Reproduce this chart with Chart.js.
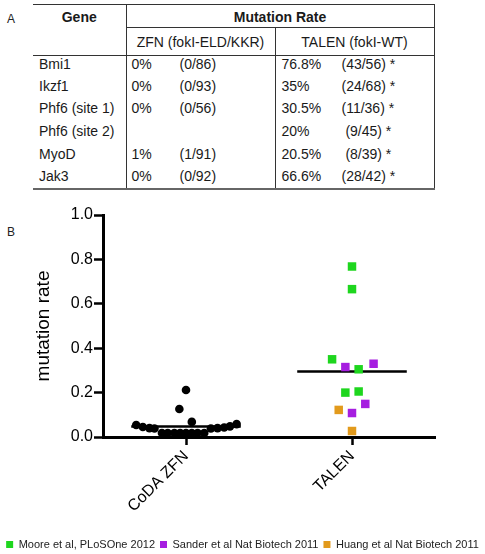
<!DOCTYPE html>
<html><head><meta charset="utf-8">
<script src="https://cdn.jsdelivr.net/npm/chart.js@4.4.1/dist/chart.umd.min.js"></script>
<style>
html,body{margin:0;padding:0;background:#fff;width:485px;height:554px;overflow:hidden;font-family:"Liberation Sans",Arial,sans-serif;}
.lbl{position:absolute;font-size:12px;color:#222;line-height:14px;}
#tbl{position:absolute;left:33px;top:4px;border-collapse:collapse;table-layout:fixed;width:401px;font-size:14px;color:#1a1a1a;}
#tbl td,#tbl th{padding:0;border:0 solid #333;white-space:nowrap;overflow:hidden;box-sizing:border-box;vertical-align:top;line-height:15px;}
#tbl th{font-weight:bold;text-align:center;border-top-width:1px;padding-top:5px;}
#tbl .gene{border-right-width:1px;border-bottom-width:1px;}
#tbl .mr{height:23px;border-bottom-width:1px;border-right-width:1px;}
#tbl .sub{height:28px;text-align:center;border-right-width:1px;border-bottom-width:1px;padding-top:7px;}
#tbl tr.d td{height:22.7px;padding-top:0.5px;border-right-width:1px;}
#tbl tr.last td{height:20px;border-bottom:2px solid #666;}
#tbl td.g{padding-left:6px;}
#tbl td.z{padding-left:5px;}
#tbl td.t{padding-left:6px;}
.pz{display:inline-block;width:48px;}
.pt{display:inline-block;width:60px;}
#c{position:absolute;left:0;top:195px;}
</style>
</head><body>
<div class="lbl" style="left:7px;top:12px;">A</div>
<table id="tbl">
<colgroup><col style="width:93px"><col style="width:149px"><col style="width:159px"></colgroup>
<thead>
<tr><th rowspan="2" class="gene">Gene</th><th colspan="2" class="mr">Mutation Rate</th></tr>
<tr><td class="sub" id="hz"></td><td class="sub" id="ht"></td></tr>
</thead>
<tbody id="tb"></tbody>
</table>
<div class="lbl" style="left:7px;top:225px;">B</div>
<canvas id="c" width="485" height="365"></canvas>
<script>
// ---- table data ----
const colHeaders = ['ZFN (fokI-ELD/KKR)', 'TALEN (fokI-WT)'];
const genes = ['Bmi1', 'Ikzf1', 'Phf6 (site 1)', 'Phf6 (site 2)', 'MyoD', 'Jak3'];
const zfnPct = ['0%', '0%', '0%', '', '1%', '0%'];
const zfnFrac = ['(0/86)', '(0/93)', '(0/56)', '', '(1/91)', '(0/92)'];
const talenPct = ['76.8%', '35%', '30.5%', '20%', '20.5%', '66.6%'];
const talenFrac = ['(43/56) *', '(24/68) *', '(11/36) *', '\u00a0(9/45) *', '\u00a0(8/39) *', '(28/42) *'];

// ---- chart data ----
const categories = ['CoDA ZFN', 'TALEN'];
const yTicks = [0, 0.2, 0.4, 0.6, 0.8, 1.0];
const zfnRate = [0.054, 0.045, 0.040, 0.038, 0.018, 0.018, 0.018, 0.018, 0.018, 0.018, 0.018, 0.018, 0.038, 0.040, 0.043, 0.048, 0.058, 0.212, 0.126, 0.068];
const zfnPos  = [0.70, 0.74, 0.78, 0.81, 0.855, 0.89, 0.93, 0.965, 1.0, 1.035, 1.07, 1.11, 1.15, 1.19, 1.23, 1.265, 1.305, 1.0, 0.96, 1.035];
const mooreRate = [0.768, 0.35, 0.305, 0.20, 0.205, 0.666];
const moorePos  = [2.0, 1.88, 2.04, 1.96, 2.04, 2.0];
const sanderRate = [0.315, 0.33, 0.149, 0.108];
const sanderPos  = [1.96, 2.13, 2.08, 2.0];
const huangRate = [0.122, 0.027];
const huangPos  = [1.92, 2.0];
const seriesNames = ['Moore et al, PLoSOne 2012', 'Sander et al Nat Biotech 2011', 'Huang et al Nat Biotech 2011'];

// build table
document.getElementById('hz').textContent = colHeaders[0];
document.getElementById('ht').textContent = colHeaders[1];
const tb = document.getElementById('tb');
genes.forEach((g, i) => {
  const tr = document.createElement('tr');
  tr.className = 'd' + (i === genes.length - 1 ? ' last' : '');
  tr.innerHTML = '<td class="g"></td><td class="z"><span class="pz"></span><span></span></td><td class="t"><span class="pt"></span><span></span></td>';
  tr.children[0].textContent = g;
  tr.children[1].children[0].textContent = zfnPct[i];
  tr.children[1].children[1].textContent = zfnFrac[i];
  tr.children[2].children[0].textContent = talenPct[i];
  tr.children[2].children[1].textContent = talenFrac[i];
  tb.appendChild(tr);
});

const GREEN = '#1ed61e', PURPLE = '#a61ee0', ORANGE = '#e29a1c';
const MEAN_HALF = 0.33;
const mean = a => a.reduce((s, v) => s + v, 0) / a.length;
const talenAll = mooreRate.concat(sanderRate, huangRate);
const pts = (ys, xs) => ys.map((y, i) => ({x: xs[i], y}));

Chart.defaults.font.family = '"Liberation Sans", Arial, sans-serif';
Chart.defaults.color = '#000';

const sq = (label, ys, xs, col) => ({
  label, data: pts(ys, xs), backgroundColor: col, borderColor: col, borderWidth: 0,
  pointStyle: 'rect', pointRadius: 6, pointHoverRadius: 6, pointBorderWidth: 0
});
const meanLine = (label, cx, m) => ({
  label, data: [{x: cx - MEAN_HALF, y: m}, {x: cx + MEAN_HALF, y: m}],
  showLine: true, borderColor: '#000', backgroundColor: '#000', borderWidth: 2.5, pointRadius: 0, pointHoverRadius: 0
});

new Chart(document.getElementById('c'), {
  type: 'scatter',
  data: {
    datasets: [
      {label: categories[0], data: pts(zfnRate, zfnPos), backgroundColor: '#000', borderColor: '#000', borderWidth: 0,
       pointStyle: 'circle', pointRadius: 4.3, pointHoverRadius: 4.3, pointBorderWidth: 0},
      sq(seriesNames[0], mooreRate, moorePos, GREEN),
      sq(seriesNames[1], sanderRate, sanderPos, PURPLE),
      sq(seriesNames[2], huangRate, huangPos, ORANGE),
      meanLine('mean ZFN', 1, mean(zfnRate)),
      meanLine('mean TALEN', 2, mean(talenAll))
    ]
  },
  options: {
    responsive: false, animation: false, devicePixelRatio: 1, events: [],
    layout: {padding: {top: 20, left: 0, right: 0, bottom: 0}},
    plugins: {
      tooltip: {enabled: false},
      legend: {
        position: 'bottom',
        labels: {
          boxWidth: 7, boxHeight: 7, padding: 5, color: '#222', font: {size: 11},
          filter: (item) => item.datasetIndex >= 1 && item.datasetIndex <= 3
        }
      }
    },
    scales: {
      x: {
        type: 'linear', min: 0.5, max: 2.5,
        afterBuildTicks: s => { s.ticks = categories.map((c, i) => ({value: i + 1})); },
        afterFit: s => { s.height = 97; },
        ticks: {callback: v => categories[Math.round(v) - 1], font: {size: 16}, color: '#000',
                minRotation: 45, maxRotation: 45, autoSkip: false, padding: 2},
        grid: {display: true, drawOnChartArea: false, drawTicks: true, tickLength: 8, tickWidth: 2.5, tickColor: '#000'},
        border: {display: true, color: '#000', width: 3}
      },
      y: {
        type: 'linear', min: 0, max: 1,
        afterBuildTicks: s => { s.ticks = yTicks.map(v => ({value: v})); },
        afterFit: s => { s.width = 103; },
        ticks: {callback: v => v.toFixed(1), font: {size: 16}, color: '#000', padding: 1},
        grid: {display: true, drawOnChartArea: false, drawTicks: true, tickLength: 9, tickWidth: 2.5, tickColor: '#000'},
        border: {display: true, color: '#000', width: 3},
        title: {display: true, text: 'mutation rate', font: {size: 19}, color: '#000', padding: {top: 32, bottom: 0}}
      },
      yR: {
        type: 'linear', position: 'right', display: true,
        ticks: {display: false}, grid: {display: false}, border: {display: false},
        afterFit: s => { s.width = 50; }
      }
    }
  }
});
</script>
</body></html>
